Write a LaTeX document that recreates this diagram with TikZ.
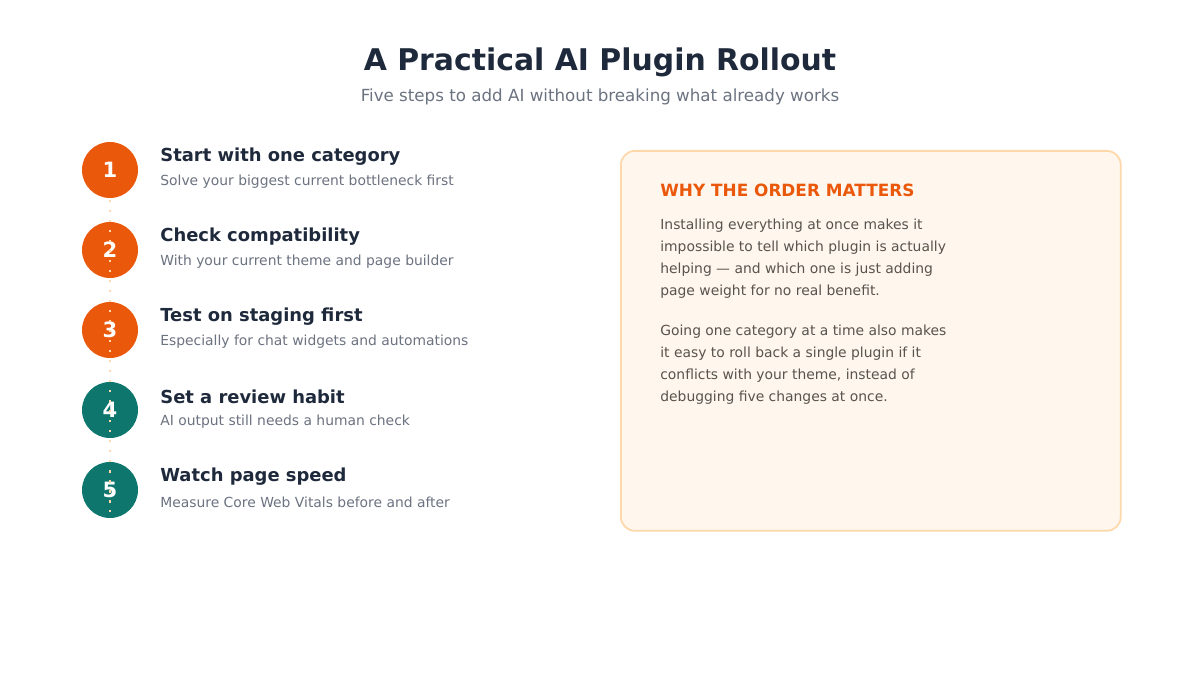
\documentclass[tikz,border=0pt]{standalone}
\usepackage{fontspec}
\setmainfont{DejaVu Sans}
\usetikzlibrary{positioning}
\definecolor{ink}{HTML}{1E293B}
\definecolor{muted}{HTML}{6B7280}
\definecolor{accent}{HTML}{EA580C}
\definecolor{teal}{HTML}{0F766E}
\definecolor{peach}{HTML}{FED7AA}
\definecolor{cream}{HTML}{FFF7ED}
\definecolor{body}{HTML}{57534E}
\begin{document}
\begin{tikzpicture}[x=0.02cm,y=-0.02cm,
    badge/.style={circle,minimum size=1.12cm,inner sep=0pt,text=white,font=\bfseries\fontsize{12}{14}\selectfont},
    head/.style={anchor=west,inner sep=0pt,text=ink,font=\bfseries\fontsize{10.2}{12}\selectfont},
    sub/.style={anchor=west,inner sep=0pt,text=muted,font=\fontsize{7.9}{10}\selectfont},
    para/.style={anchor=north west,inner sep=0pt,text=body,align=left,font=\fontsize{7.9}{12.5}\selectfont}
]
\useasboundingbox (0,0) rectangle (1200,675);

% Title
\node[inner sep=0pt,text=ink,font=\bfseries\fontsize{17}{20}\selectfont] (title) at (600,62) {A Practical AI Plugin Rollout};
\node[inner sep=0pt,text=muted,font=\fontsize{9.5}{12}\selectfont] (subtitle) at (600,97) {Five steps to add AI without breaking what already works};

% Steps
\foreach \i/\col/\h/\s in {1/accent/Start with one category/Solve your biggest current bottleneck first,
    2/accent/Check compatibility/With your current theme and page builder,
    3/accent/Test on staging first/Especially for chat widgets and automations,
    4/teal/Set a review habit/AI output still needs a human check,
    5/teal/Watch page speed/Measure Core Web Vitals before and after} {
  \node[badge,fill=\col] (c\i) at (110,90+80*\i) {\i};
  \node[head] (h\i) at (160,77+80*\i) {\h};
  \node[sub] (s\i) at (160,102+80*\i) {\s};
}
\coordinate (top) at (110,200);
\coordinate (bot) at (110,512);
\draw[peach,line width=1pt,dash pattern=on 1.2pt off 4.5pt] (top) -- (bot);

% Side panel
\node[draw=peach,fill=cream,line width=1pt,rounded corners=8pt,minimum width=10cm,minimum height=7.6cm,anchor=north west] (panel) at (620,150) {};
\node[anchor=west,inner sep=0pt,text=accent,font=\bfseries\fontsize{9.6}{12}\selectfont] (why) at (660,190) {WHY THE ORDER MATTERS};
\node[para] (p1) at (660,219) {Installing everything at once makes it\\impossible to tell which plugin is actually\\helping — and which one is just adding\\page weight for no real benefit.};
\node[para] (p2) at (660,325) {Going one category at a time also makes\\it easy to roll back a single plugin if it\\conflicts with your theme, instead of\\debugging five changes at once.};
\end{tikzpicture}
\end{document}
